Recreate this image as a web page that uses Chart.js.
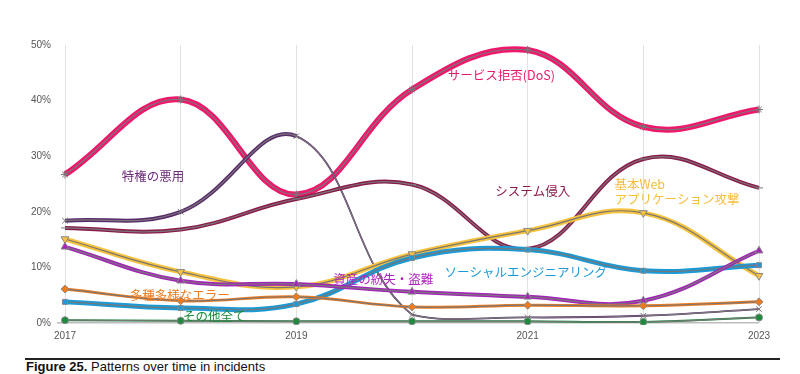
<!DOCTYPE html>
<html>
<head>
<meta charset="utf-8">
<script src="https://cdn.jsdelivr.net/npm/chart.js@4/dist/chart.umd.min.js"></script>
<style>
  html, body { margin: 0; padding: 0; background: #fff; }
  #wrap { position: relative; width: 800px; height: 374px; overflow: hidden; }
  #chartBox { position: absolute; left: 0; top: 0; width: 800px; height: 350px; }
  #rule { position: absolute; left: 25px; top: 358px; width: 755px; height: 2px; background: #222; }
  #caption { position: absolute; left: 26px; top: 359px; font: 13px "Liberation Sans", Arial, sans-serif; color: #111; white-space: nowrap; }
  #caption b { font-weight: bold; }
</style>
</head>
<body>
<div id="wrap">
  <div id="chartBox"><canvas id="trend"></canvas></div>
  <div id="rule"></div>
  <div id="caption"><b>Figure 25.</b> Patterns over time in incidents</div>
</div>
<script>
// years on the x axis (only odd years get a label)
const years = ['2017', '2018', '2019', '2020', '2021', '2022', '2023'];
const yTicks = [0, 10, 20, 30, 40, 50];

// share of incidents per pattern, in %
const dos = [26.7, 40.2, 23.1, 42.0, 49.1, 35.3, 38.4];
const privilegeMisuse = [18.4, 20.0, 33.6, 1.5, 1.0, 1.3, 2.5];
const systemIntrusion = [17.1, 16.8, 22.3, 24.9, 13.3, 29.5, 24.3];
const webApp = [15.1, 9.2, 6.5, 12.4, 16.6, 19.8, 8.5];
const socialEng = [3.8, 2.7, 3.4, 11.7, 13.2, 9.4, 10.4];
const lostStolen = [13.7, 7.6, 7.0, 5.6, 4.7, 4.0, 13.0];
const miscErrors = [6.1, 4.0, 4.7, 2.9, 3.2, 3.1, 3.8];
const everythingElse = [0.5, 0.4, 0.3, 0.3, 0.3, 0.2, 1.0];

// series names as printed on the chart
const names = {
    dos: 'サービス拒否(DoS)',
    privilege: '特権の悪用',
    intrusion: 'システム侵入',
    web: ['基本Web', 'アプリケーション攻撃'],
    social: 'ソーシャルエンジニアリング',
    lost: '資産の紛失・盗難',
    errors: '多種多様なエラー',
    other: 'その他全て'
};

const GREY = '#777';

// each pattern = thick coloured band + thin grey centre line with markers
const series = [
    { data: dos, color: '#f0186c', width: 6, marker: 'star', fill: GREY, rot: 0, r: 4 },
    { data: privilegeMisuse, color: '#5a2a6c', width: 4, thinFrom: 2, marker: 'crossRot', fill: GREY, rot: 0, r: 4 },
    { data: systemIntrusion, color: '#8c1b4c', width: 4, marker: 'line', fill: GREY, rot: 0, r: 4 },
    { data: webApp, color: '#f7c23e', width: 5, marker: 'triangle', fill: '#f7c23e', rot: 180, r: 4.5 },
    { data: socialEng, color: '#1b9ad6', width: 5, marker: 'rect', fill: '#1b9ad6', rot: 0, r: 3.5 },
    { data: lostStolen, color: '#a424b8', width: 4, marker: 'triangle', fill: '#a424b8', rot: 0, r: 4.5 },
    { data: miscErrors, color: '#ef7b1c', width: 3, marker: 'rectRot', fill: '#ef7b1c', rot: 0, r: 4 },
    { data: everythingElse, color: '#1d8a3e', width: 2, marker: 'circle', fill: '#1d8a3e', rot: 0, r: 3.5 }
];

const clipBox = { left: false, right: false, top: 6, bottom: 2 };

const datasets = [];
series.forEach((s, i) => {
    const band = {
        data: s.data,
        borderColor: s.color,
        borderWidth: s.width,
        tension: 0.4,
        pointRadius: 0,
        clip: clipBox,
        order: 100 - i * 2
    };
    if (s.thinFrom !== undefined) {
        band.segment = { borderWidth: (c) => (c.p0DataIndex >= s.thinFrom ? 1.8 : s.width) };
    }
    datasets.push(band);
    datasets.push({
        data: s.data,
        borderColor: GREY,
        borderWidth: 1.2,
        tension: 0.4,
        pointStyle: s.marker,
        pointRotation: s.rot,
        pointRadius: s.r,
        pointBackgroundColor: s.fill,
        pointBorderColor: s.fill === GREY ? GREY : '#888',
        pointBorderWidth: 1,
        clip: clipBox,
        order: 99 - i * 2
    });
});

// text labels placed in data coordinates (x = year index, y = %)
const seriesLabels = [
    { text: names.privilege, x: 0.49, y: 26.4, color: '#6a2d78' },
    { text: names.dos, x: 3.31, y: 44.6, color: '#e8196c' },
    { text: names.intrusion, x: 3.72, y: 23.7, color: '#8c1b4c' },
    { text: names.web[0], x: 4.75, y: 25.0, color: '#f5be3c' },
    { text: names.web[1], x: 4.75, y: 22.3, color: '#f5be3c' },
    { text: names.lost, x: 2.32, y: 7.9, color: '#b01fc0' },
    { text: names.social, x: 3.28, y: 9.2, color: '#1b9ad6' },
    { text: names.errors, x: 0.56, y: 5.0, color: '#f07c1e' },
    { text: names.other, x: 1.02, y: 1.3, color: '#1a8a3a' }
];

const labelPlugin = {
    id: 'seriesLabels',
    afterDatasetsDraw(chart) {
        const ctx = chart.ctx;
        const xs = chart.scales.x, ys = chart.scales.y;
        ctx.save();
        ctx.font = '12.5px "Noto Sans CJK JP", sans-serif';
        ctx.textAlign = 'left';
        ctx.textBaseline = 'middle';
        seriesLabels.forEach(l => {
            ctx.fillStyle = l.color;
            ctx.fillText(l.text, xs.getPixelForValue(l.x), ys.getPixelForValue(l.y));
        });
        ctx.restore();
    }
};

new Chart(document.getElementById('trend'), {
    type: 'line',
    data: { labels: years, datasets: datasets },
    options: {
        responsive: true,
        maintainAspectRatio: false,
        animation: false,
        layout: { padding: { top: 45, right: 41, left: 0, bottom: 0 } },
        plugins: { legend: { display: false }, tooltip: { enabled: false } },
        scales: {
            x: {
                offset: false,
                grid: { color: '#e2e2e2', drawTicks: false },
                border: { display: false },
                ticks: {
                    padding: 7,
                    autoSkip: false,
                    maxRotation: 0,
                    color: '#555',
                    font: { family: '"Liberation Sans", Arial', size: 10 },
                    callback: (v, i) => (i % 2 === 0 ? years[i] : '')
                },
                afterFit: (scale) => { scale.height = 27; }
            },
            y: {
                min: yTicks[0],
                max: yTicks[yTicks.length - 1],
                afterBuildTicks: (scale) => { scale.ticks = yTicks.map(v => ({ value: v })); },
                grid: {
                    color: (c) => (c.tick && c.tick.value === 0 ? '#bdbdbd' : 'rgba(0,0,0,0)'),
                    tickLength: 8,
                    lineWidth: 1.5
                },
                border: { display: false },
                ticks: {
                    padding: 6,
                    color: '#555',
                    font: { family: '"Liberation Sans", Arial', size: 10 },
                    callback: (v) => v + '%'
                },
                afterFit: (scale) => { scale.width = 65; }
            }
        }
    },
    plugins: [labelPlugin]
});
</script>
</body>
</html>
